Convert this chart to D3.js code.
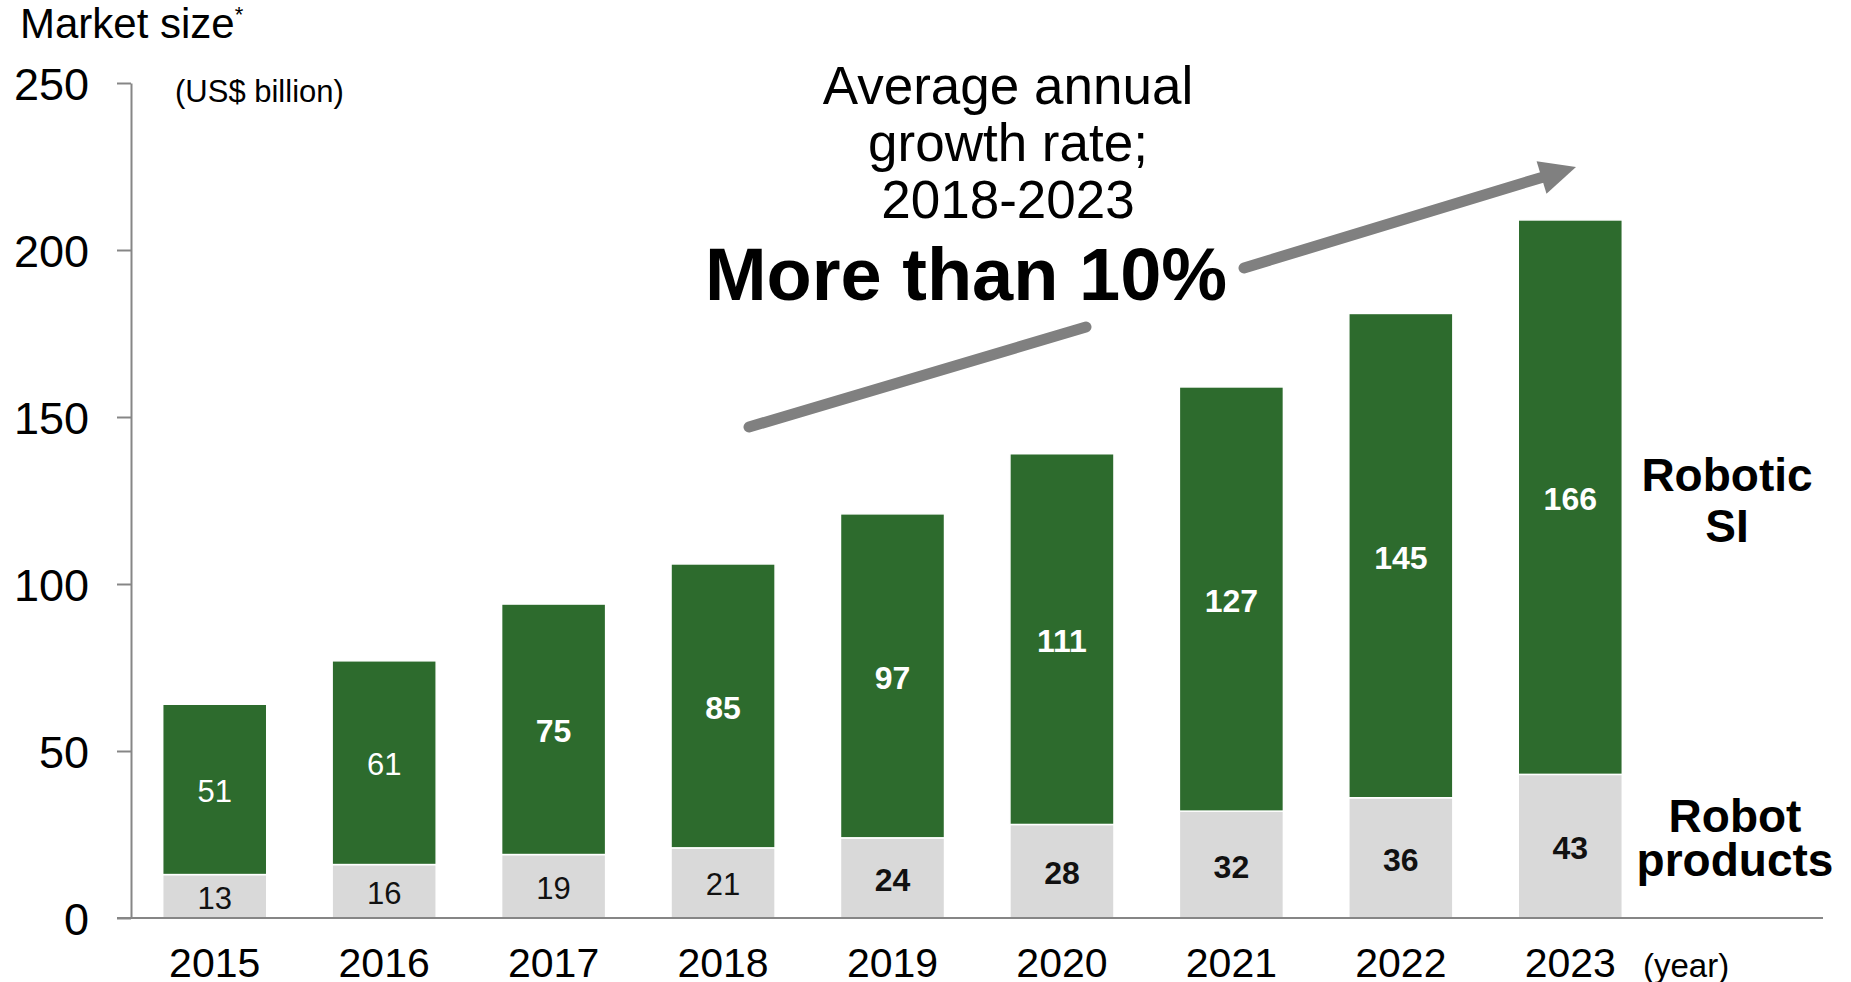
<!DOCTYPE HTML>
<html lang="en">
<head>
<meta charset="utf-8">
<title>Robot market size</title>
<style>
html, body {
    margin: 0;
    background: #fff;
 }

svg text {
    font-family: "Liberation Sans", Arial, sans-serif;
 }

.axis path, .axis line {
    stroke: #868686;
    stroke-width: 2;
 }
</style>
</head>
<body>

<svg id="chart" width="1851" height="982"></svg>

<script src="https://cdnjs.cloudflare.com/ajax/libs/d3/7.8.5/d3.min.js"></script>
<script>
(function() {
  'use strict';

// Data
const years = ['2015', '2016', '2017', '2018', '2019', '2020', '2021', '2022', '2023'];
const robotProducts = [13, 16, 19, 21, 24, 28, 32, 36, 43];
const roboticSI = [51, 61, 75, 85, 97, 111, 127, 145, 166];
const yTicks = [0, 50, 100, 150, 200, 250];

const green = '#2d6b2d';
const grey = '#d9d9d9';

const svg = d3.select('#chart');

// Scales
const x = d3.scaleBand()
  .domain(years)
  .range([130, 1655])
  .paddingInner(0.386)
  .paddingOuter(0.193);

const y = d3.scaleLinear()
  .domain([0, 250])
  .range([918, 83]);

// Table for d3.stack
const table = years.map((yr, i) => ({ year: yr, products: robotProducts[i], si: roboticSI[i] }));
const series = d3.stack().keys(['products', 'si'])(table);

// Bars
const layers = svg.append('g')
  .selectAll('g')
  .data(series)
  .enter()
  .append('g')
  .attr('fill', d => d.key === 'si' ? green : grey);

layers.selectAll('rect')
  .data(d => d)
  .enter()
  .append('rect')
  .attr('x', d => x(d.data.year))
  .attr('width', x.bandwidth())
  .attr('y', d => y(d[1]))
  .attr('height', d => y(d[0]) - y(d[1]))
  .attr('stroke', '#fff')
  .attr('stroke-width', 1.5);

// Segment labels
layers.each(function(s) {
  const isSI = s.key === 'si';
  d3.select(this).selectAll('text')
    .data(s)
    .enter()
    .append('text')
    .attr('x', d => x(d.data.year) + x.bandwidth() / 2)
    .attr('y', d => (y(d[0]) + y(d[1])) / 2 + 2)
    .attr('text-anchor', 'middle')
    .attr('dominant-baseline', 'central')
    .attr('fill', isSI ? '#fff' : '#111')
    .attr('font-size', (d, i) => (isSI ? i >= 2 : i >= 4) ? 32 : 31)
    .attr('font-weight', (d, i) => (isSI ? i >= 2 : i >= 4) ? 'bold' : 'normal')
    .text(d => d[1] - d[0]);
});

// Y axis
const yAxis = svg.append('g')
  .attr('class', 'axis')
  .attr('transform', 'translate(131,0)')
  .call(d3.axisLeft(y).tickValues(yTicks).tickSize(14).tickSizeOuter(0).tickPadding(28));

yAxis.selectAll('text')
  .attr('font-size', 45)
  .attr('fill', '#000')
  .attr('dy', '0.36em');

// X axis: long base line plus year labels
svg.append('line')
  .attr('class', 'axis')
  .attr('x1', 117)
  .attr('x2', 1823)
  .attr('y1', y(0))
  .attr('y2', y(0))
  .attr('stroke', '#868686')
  .attr('stroke-width', 2);

const xAxis = svg.append('g')
  .attr('transform', 'translate(0,' + y(0) + ')')
  .call(d3.axisBottom(x).tickSize(0).tickPadding(30));

xAxis.select('.domain').remove();
xAxis.selectAll('text')
  .attr('font-size', 41)
  .attr('fill', '#000');

svg.append('text')
  .attr('x', 1643)
  .attr('y', 977)
  .attr('font-size', 33)
  .text('(year)');

// Titles
const title = svg.append('text')
  .attr('x', 20)
  .attr('y', 38)
  .attr('font-size', 42)
  .text('Market size');
title.append('tspan')
  .attr('font-size', 22)
  .attr('dy', -16)
  .text('*');

svg.append('text')
  .attr('x', 175)
  .attr('y', 102)
  .attr('font-size', 31)
  .text('(US$ billion)');

// Series names on the right
const nameSI = svg.append('text')
  .attr('text-anchor', 'middle')
  .attr('font-size', 46)
  .attr('font-weight', 'bold');
nameSI.append('tspan').attr('x', 1727).attr('y', 491).text('Robotic');
nameSI.append('tspan').attr('x', 1727).attr('y', 542).text('SI');

const nameProducts = svg.append('text')
  .attr('text-anchor', 'middle')
  .attr('font-size', 46)
  .attr('font-weight', 'bold');
nameProducts.append('tspan').attr('x', 1735).attr('y', 832).text('Robot');
nameProducts.append('tspan').attr('x', 1735).attr('y', 876).text('products');

// Growth annotation
const note = svg.append('text')
  .attr('text-anchor', 'middle')
  .attr('font-size', 53);
note.append('tspan').attr('x', 1008).attr('y', 104).text('Average annual');
note.append('tspan').attr('x', 1008).attr('y', 161).text('growth rate;');
note.append('tspan').attr('x', 1008).attr('y', 218).text('2018-2023');

svg.append('text')
  .attr('x', 966)
  .attr('y', 300)
  .attr('text-anchor', 'middle')
  .attr('font-size', 74)
  .attr('font-weight', 'bold')
  .text('More than 10%');

// Arrow, broken by the text
const arrowGrey = '#808080';
svg.append('line')
  .attr('x1', 749).attr('y1', 427)
  .attr('x2', 1086).attr('y2', 327)
  .attr('stroke', arrowGrey)
  .attr('stroke-width', 11)
  .attr('stroke-linecap', 'round');

const tip = [1576, 167];
const tail = [1244, 268];
const len = Math.hypot(tip[0] - tail[0], tip[1] - tail[1]);
const ux = (tip[0] - tail[0]) / len;
const uy = (tip[1] - tail[1]) / len;
const back = [tip[0] - 36 * ux, tip[1] - 36 * uy];

svg.append('line')
  .attr('x1', tail[0]).attr('y1', tail[1])
  .attr('x2', back[0] + 2 * ux).attr('y2', back[1] + 2 * uy)
  .attr('stroke', arrowGrey)
  .attr('stroke-width', 11)
  .attr('stroke-linecap', 'round');

svg.append('polygon')
  .attr('points', [
    tip,
    [back[0] - 17 * uy, back[1] + 17 * ux],
    [back[0] + 17 * uy, back[1] - 17 * ux]
  ].map(p => p.join(',')).join(' '))
  .attr('fill', arrowGrey);

}());
</script>
</body>
</html>
